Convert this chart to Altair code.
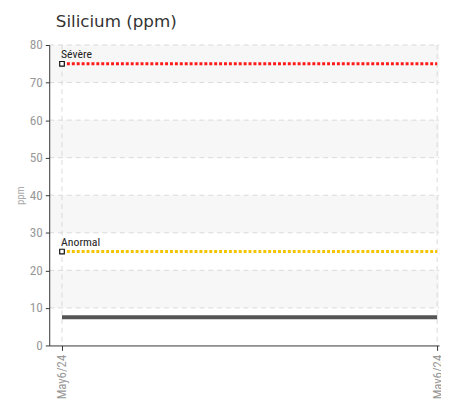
import altair as alt
import pandas as pd

# ---- data ----
dates = ["May6/24", "May6/24"]
x_idx = [0, 1]
silicium = [7.5, 7.5]
limit_names = ["Sévère", "Anormal"]
limit_values = [75, 25]
limit_colors = ["#ff1a1a", "#f5c400"]
band_lo = [70, 50, 30, 10]
band_hi = [80, 60, 40, 20]
y_ticks = [0, 10, 20, 30, 40, 50, 60, 70, 80]

FONT = "Roboto Condensed, Liberation Sans Narrow, Roboto, sans-serif"

df = pd.DataFrame({"x": x_idx, "date": dates, "v": silicium})
bands = pd.DataFrame({"lo": band_lo, "hi": band_hi})
ygrid = pd.DataFrame({"t": y_ticks[1:]})
xgrid = pd.DataFrame({"x": x_idx})
lim = pd.DataFrame({"name": limit_names, "v": limit_values, "color": limit_colors,
                    "x0": [x_idx[0]] * 2, "x1": [x_idx[-1]] * 2})

xscale = alt.Scale(domain=[-0.034, 1.005], nice=False, zero=False)
yscale = alt.Scale(domain=[0, 80], nice=False)

label_expr = "[" + ",".join("'" + d + "'" for d in dates) + "][datum.value]"

xaxis = alt.Axis(values=x_idx, labelExpr=label_expr, title=None, labelAngle=270,
                 labelAlign="right", labelBaseline="middle", labelFont=FONT,
                 labelFontSize=13, labelColor="#999", domainColor="#333",
                 tickColor="#333", tickSize=5, grid=False, labelPadding=4,
                 domainWidth=1, zindex=1, labelOverlap=False)
yaxis = alt.Axis(values=y_ticks, title="ppm", titleFont=FONT,
                 titleFontSize=11, titleColor="#aaa", titleFontWeight="normal",
                 titlePadding=4, labelFont=FONT, labelFontSize=13.5, labelColor="#999",
                 domainColor="#333", tickColor="#333", tickSize=4, grid=False,
                 labelPadding=3, zindex=1, labelOverlap=False)

band_layer = alt.Chart(bands).mark_rect(color="#f7f7f7").encode(
    x=alt.value(0), x2=alt.value(397),
    y=alt.Y("hi:Q", scale=yscale, axis=yaxis), y2="lo:Q")

hgrid = alt.Chart(ygrid).mark_rule(color="#d9d9d9", strokeDash=[5, 4]).encode(
    x=alt.value(0), x2=alt.value(397), y=alt.Y("t:Q", scale=yscale, axis=yaxis))

vgrid = alt.Chart(xgrid).mark_rule(color="#d9d9d9", strokeDash=[5, 4]).encode(
    x=alt.X("x:Q", scale=xscale, axis=xaxis), y=alt.value(0), y2=alt.value(306))

line_layer = alt.Chart(df).mark_line(color="#555", strokeWidth=4).encode(
    x=alt.X("x:Q", scale=xscale, axis=xaxis), y=alt.Y("v:Q", scale=yscale, axis=yaxis))

rules = alt.Chart(lim).mark_rule(strokeWidth=3, strokeDash=[3, 2]).encode(
    x=alt.X("x0:Q", scale=xscale, axis=xaxis), x2="x1:Q",
    y=alt.Y("v:Q", scale=yscale, axis=yaxis),
    color=alt.Color("color:N", scale=None))

markers = alt.Chart(lim).mark_point(shape="square", size=22, filled=True,
                                    fill="white", stroke="#111", strokeWidth=1.2,
                                    opacity=1).encode(
    x=alt.X("x0:Q", scale=xscale, axis=xaxis), y=alt.Y("v:Q", scale=yscale, axis=yaxis))

labels = alt.Chart(lim).mark_text(align="left", baseline="bottom", dx=-1, dy=-3,
                                  font=FONT, fontSize=12, color="#222").encode(
    x=alt.X("x0:Q", scale=xscale, axis=xaxis), y=alt.Y("v:Q", scale=yscale, axis=yaxis),
    text="name:N")

chart = alt.layer(band_layer, hgrid, vgrid, line_layer, rules, markers, labels).properties(
    width=397, height=306,
    title=alt.TitleParams("Silicium (ppm)", anchor="start", dx=42, fontSize=17,
                          font="DejaVu Sans", fontWeight="normal", color="#333",
                          offset=7),
    autosize=alt.AutoSizeParams(type="none"),
    padding={"left": 42, "top": 34, "right": 2, "bottom": 60},
).configure_view(stroke=None).configure_axis(labelOverlap=False)

chart.save("out.html", embed_options={"renderer": "svg", "actions": False})
